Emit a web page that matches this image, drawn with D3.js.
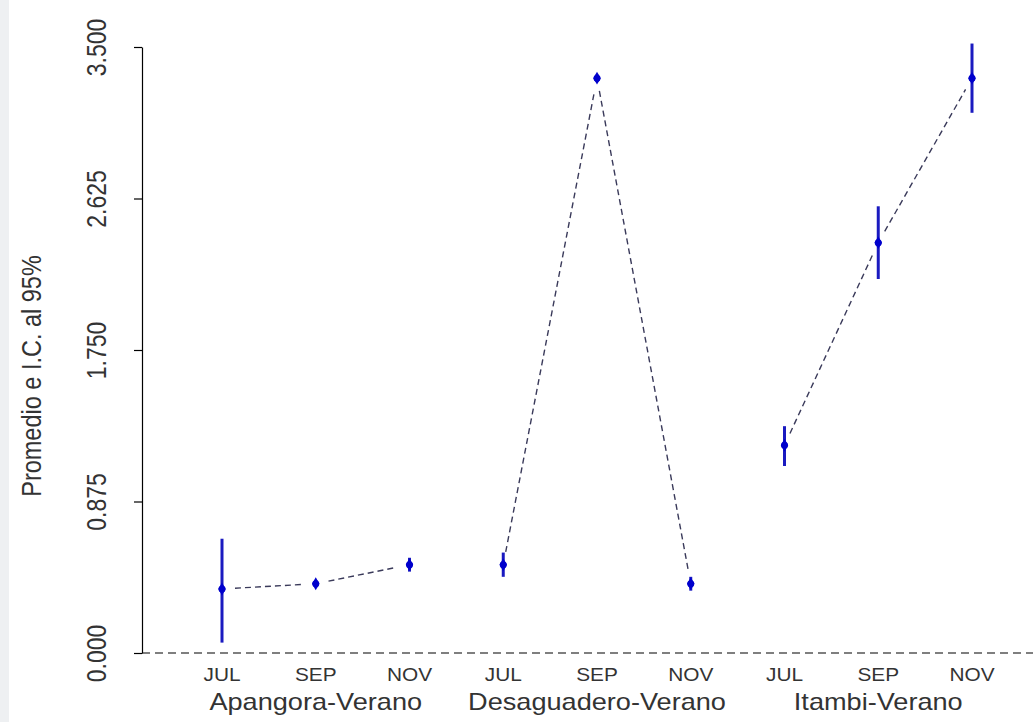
<!DOCTYPE html>
<html>
<head>
<meta charset="utf-8">
<script src="https://cdn.jsdelivr.net/npm/d3@7"></script>
<style>
  html, body { margin: 0; padding: 0; background: #fff; }
  svg { display: block; font-family: "Liberation Sans", Arial, sans-serif; }
</style>
</head>
<body>
<svg id="chart" width="1033" height="722"></svg>
<script>
// Sites and sampling months
const groups = ["Apangora-Verano", "Desaguadero-Verano", "Itambi-Verano"];
const months = ["JUL", "SEP", "NOV"];

// Means and 95% confidence limits, one row per site, one entry per month
const means = [
  [0.37, 0.40, 0.51],
  [0.51, 3.32, 0.40],
  [1.20, 2.37, 3.32]
];
const lower = [
  [0.06, 0.38, 0.47],
  [0.44, 3.30, 0.36],
  [1.08, 2.16, 3.12]
];
const upper = [
  [0.66, 0.42, 0.55],
  [0.58, 3.34, 0.44],
  [1.31, 2.58, 3.52]
];
const yTicks = [0, 0.875, 1.75, 2.625, 3.5];

const svg = d3.select("#chart");
const W = 1033, H = 722;
const m = { left: 142, top: 47, bottom: 69 };
const sx = 1.18;          // horizontal widening of the lettering
const textColor = "#333";

// faint strip on the left edge
svg.append("rect").attr("x", 0).attr("y", 0).attr("width", 9).attr("height", H)
  .attr("fill", "#eef0f2");

// one slot per site/month pair
const slots = [];
groups.forEach((g, gi) => months.forEach((mo, mi) => slots.push({ g, gi, mo, mi,
  key: gi + "-" + mi, mean: means[gi][mi], lo: lower[gi][mi], hi: upper[gi][mi] })));

const x = d3.scalePoint().domain(slots.map(d => d.key)).range([222, 972]);
const y = d3.scaleLinear().domain([0, 3.5]).range([H - m.bottom, m.top]);

// dashed zero line across the plot
svg.append("line")
  .attr("x1", m.left).attr("x2", W).attr("y1", y(0)).attr("y2", y(0))
  .attr("stroke", "#555").attr("stroke-width", 1.3).attr("stroke-dasharray", "8,5");

// y axis
const yAxis = d3.axisLeft(y).tickValues(yTicks).tickFormat(d3.format(".3f")).tickSize(8).tickSizeOuter(0);
const ga = svg.append("g").attr("transform", `translate(${m.left},0)`).call(yAxis);
ga.select(".domain").attr("stroke", "#000").attr("stroke-width", 1.2);
ga.selectAll(".tick line").attr("stroke", "#000").attr("stroke-width", 1.2);
ga.selectAll(".tick text")
  .attr("font-size", 23).attr("fill", textColor)
  .attr("text-anchor", "middle")
  .attr("x", 0).attr("y", 0).attr("dy", null)
  .attr("transform", `translate(${106 - m.left},0) scale(${sx},1) rotate(-90)`);

// y axis title
svg.append("text")
  .attr("transform", `translate(41,${376}) scale(${sx},1) rotate(-90)`)
  .attr("text-anchor", "middle").attr("font-size", 23.5).attr("fill", textColor)
  .text("Promedio e I.C. al 95%");

// month labels and site labels
svg.selectAll("text.month").data(slots).join("text")
  .attr("class", "month")
  .attr("transform", d => `translate(${x(d.key)},681) scale(${sx * 0.95},1)`)
  .attr("text-anchor", "middle").attr("font-size", 18.6).attr("fill", textColor)
  .text(d => d.mo);
svg.selectAll("text.site").data(groups).join("text")
  .attr("class", "site")
  .attr("transform", (g, gi) => `translate(${x(gi + "-1")},710) scale(${sx},1)`)
  .attr("text-anchor", "middle").attr("font-size", 23).attr("fill", textColor)
  .text(g => g);

// dashed connectors within each site, with a gap around each point
const gap = 13;
groups.forEach((g, gi) => {
  const pts = slots.filter(d => d.gi === gi);
  for (let i = 0; i < pts.length - 1; i++) {
    const x1 = x(pts[i].key), y1 = y(pts[i].mean);
    const x2 = x(pts[i + 1].key), y2 = y(pts[i + 1].mean);
    const len = Math.hypot(x2 - x1, y2 - y1);
    const ux = (x2 - x1) / len, uy = (y2 - y1) / len;
    svg.append("line")
      .attr("x1", x1 + ux * gap).attr("y1", y1 + uy * gap)
      .attr("x2", x2 - ux * gap).attr("y2", y2 - uy * gap)
      .attr("stroke", "#3a3a5a").attr("stroke-width", 1.4)
      .attr("stroke-dasharray", "6,4");
  }
});

// confidence interval bars
svg.selectAll("line.ci").data(slots).join("line")
  .attr("class", "ci")
  .attr("x1", d => x(d.key)).attr("x2", d => x(d.key))
  .attr("y1", d => y(d.lo)).attr("y2", d => y(d.hi))
  .attr("stroke", "#1a1ac0").attr("stroke-width", 3);

// means
svg.selectAll("path.pt").data(slots).join("path")
  .attr("class", "pt")
  .attr("transform", d => `translate(${x(d.key)},${y(d.mean)})`)
  .attr("d", d3.symbol(d3.symbolDiamond, 48))
  .attr("fill", "#0000cc");
svg.selectAll("circle.pt").data(slots).join("circle")
  .attr("class", "pt")
  .attr("cx", d => x(d.key)).attr("cy", d => y(d.mean)).attr("r", 3.5)
  .attr("fill", "#0000cc");
</script>
</body>
</html>
